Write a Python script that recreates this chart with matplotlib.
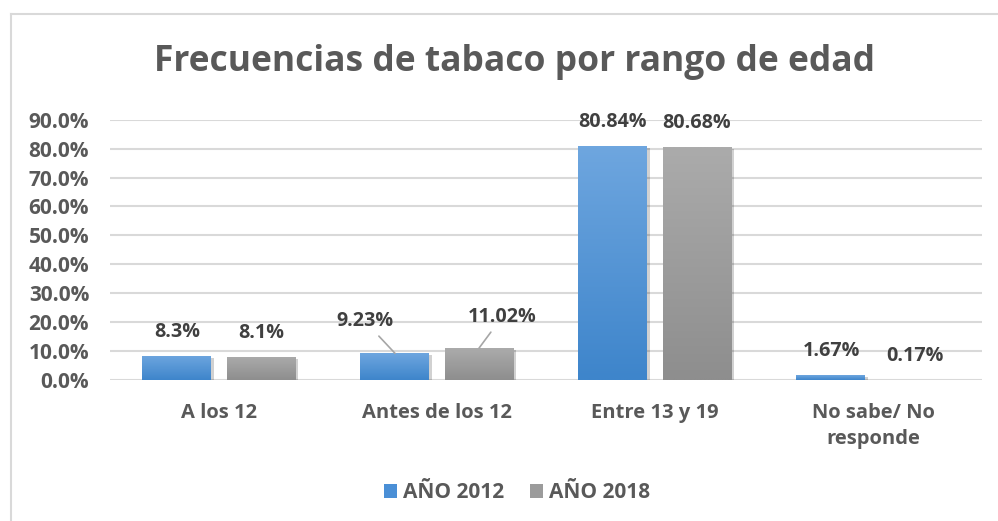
import matplotlib
matplotlib.use("Agg")
import matplotlib.pyplot as plt
import matplotlib.patheffects as pe
from matplotlib.patches import Patch
from matplotlib.lines import Line2D
import numpy as np

categories = ["A los 12", "Antes de los 12", "Entre 13 y 19", "No sabe/ No\nresponde"]
series_names = ["AÑO 2012", "AÑO 2018"]
values_2012 = [8.3, 9.23, 80.84, 1.67]
values_2018 = [8.1, 11.02, 80.68, 0.17]
labels_2012 = ["8.3%", "9.23%", "80.84%", "1.67%"]
labels_2018 = ["8.1%", "11.02%", "80.68%", "0.17%"]
yticks = [0, 10, 20, 30, 40, 50, 60, 70, 80, 90]

plt.rcParams["font.family"] = ["Open Sans", "DejaVu Sans"]
plt.rcParams["font.weight"] = "bold"

TXT = "#595959"
LBL = "#404040"
GRID = "#d9d9d9"
FS_TICK = 15
FS_CAT = 14.5
FS_VAL = 14.2
FS_LEG = 15

fig = plt.figure(figsize=(9.98, 5.21), dpi=100)
fig.patch.set_facecolor("white")

# chart frame (top and left edges visible)
fig.add_artist(Line2D([11/998, 998/998], [1-14/521, 1-14/521], color="#d9d9d9", lw=1.5,
                      transform=fig.transFigure))
fig.add_artist(Line2D([11/998, 11/998], [0, 1-14/521], color="#d9d9d9", lw=1.5,
                      transform=fig.transFigure))

ax = fig.add_axes([110/998, 1-380/521, 872/998, 260.3/521])
ax.set_xlim(-0.5, 3.5)
ax.set_ylim(0, 90)

x = np.arange(len(categories))
w = 0.3165
off = 0.1927

grad_2012 = ("#6ea6df", "#3e85cb")
grad_2018 = ("#ababab", "#8e8e8e")


def gradient_bars(xs, vals, colors, z=3):
    bars = ax.bar(xs, vals, width=w, color=colors[1], zorder=z,
                  path_effects=[pe.SimplePatchShadow(offset=(1.5, -1.5), shadow_rgbFace="#000000", alpha=0.18),
                                pe.Normal()])
    c_top = np.array(matplotlib.colors.to_rgb(colors[0]))
    c_bot = np.array(matplotlib.colors.to_rgb(colors[1]))
    for b in bars:
        x0, y0 = b.get_x(), b.get_y()
        bw, bh = b.get_width(), b.get_height()
        if bh <= 0:
            continue
        t = np.linspace(1, 0, 64)[:, None]
        img = (c_top * t[..., None] + c_bot * (1 - t[..., None]))
        img = np.repeat(img, 2, axis=1)
        im = ax.imshow(img, extent=[x0, x0 + bw, y0, y0 + bh], aspect="auto",
                       zorder=z + 0.1, interpolation="bilinear")
        im.set_clip_path(b)
    return bars


bars1 = gradient_bars(x - off, values_2012, grad_2012)
bars2 = gradient_bars(x + off, values_2018, grad_2018)
ax.set_xlim(-0.5, 3.5)
ax.set_ylim(0, 90)

ax.set_yticks(yticks)
ax.set_yticklabels([f"{v:.1f}%" for v in yticks], color=TXT, fontsize=FS_TICK, fontweight="bold")
ax.set_xticks(x)
ax.set_xticklabels(categories, color=TXT, fontsize=FS_CAT, fontweight="bold", linespacing=1.4)
ax.tick_params(axis="both", length=0)
ax.tick_params(axis="y", pad=15)
ax.tick_params(axis="x", pad=16.5)
ax.grid(axis="y", color=GRID, lw=1.5, zorder=0)
ax.set_axisbelow(True)
for s in ax.spines.values():
    s.set_visible(False)

# value labels; two of them are moved aside with a leader line
shift_2012 = {1: (-30, 32)}
shift_2018 = {1: (23, 31)}
for bars, labels, shifts in ((bars1, labels_2012, shift_2012), (bars2, labels_2018, shift_2018)):
    for i, (b, lab) in enumerate(zip(bars, labels)):
        cx = b.get_x() + b.get_width() / 2
        top = b.get_height()
        if i in shifts:
            dx, dy = shifts[i]
            ax.annotate(lab, (cx, top), xytext=(dx, dy), textcoords="offset pixels",
                        ha="center", va="center", fontsize=FS_VAL, fontweight="bold", color=LBL,
                        arrowprops=dict(arrowstyle="-", color="#a6a6a6", lw=1.2,
                                        shrinkA=2, shrinkB=0), zorder=6)
        else:
            ax.annotate(lab, (cx, top), xytext=(0, 24), textcoords="offset pixels",
                        ha="center", va="center", fontsize=FS_VAL, fontweight="bold", color=LBL,
                        zorder=6)

fig.text(514/998, 1 - 62/521, "Frecuencias de tabaco por rango de edad", ha="center", va="center",
         fontsize=25.5, fontweight="bold", color=TXT)

handles = [Patch(facecolor="#4a8fd6", edgecolor="none"),
           Patch(facecolor="#9b9b9b", edgecolor="none")]
fig.legend(handles, series_names, loc="center", bbox_to_anchor=(517/998, 1 - 493/521),
           ncol=2, frameon=False, handlelength=0.65, handleheight=0.65,
           handletextpad=0.3, columnspacing=1.2, labelcolor=TXT,
           prop={"weight": "bold", "size": FS_LEG})

fig.savefig("out.png", dpi=100, facecolor="white")
